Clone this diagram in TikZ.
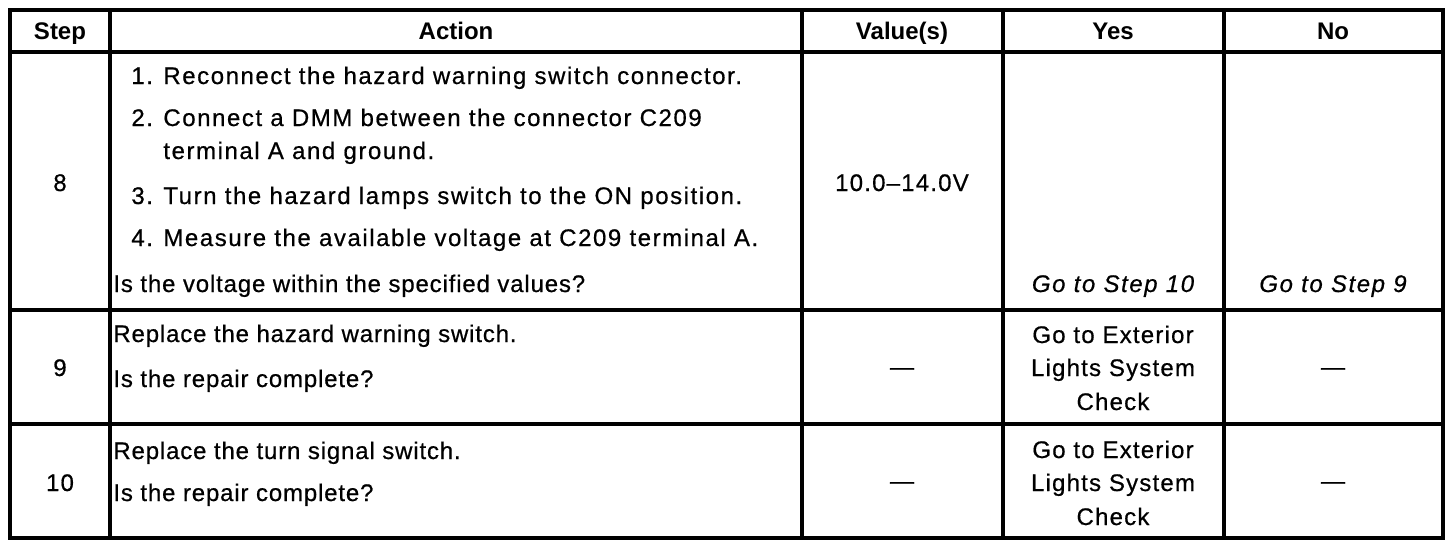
\documentclass[tikz,border=0pt]{standalone}
\usepackage{fontspec}
\setmainfont{Liberation Sans}[LetterSpace=6.5,FakeBold=0.6]
\newfontfamily\lsA{Liberation Sans}[LetterSpace=3.5,FakeBold=0.6]
\newfontfamily\lsB{Liberation Sans}[LetterSpace=5,FakeBold=0.6]
\newfontfamily\hdfont{Liberation Sans}
\begin{document}
\begin{tikzpicture}[x=0.5pt,y=-0.5pt,
  txt/.style={inner sep=0pt,font=\fontsize{12pt}{14pt}\selectfont},
  hd/.style={txt,anchor=base,font=\fontsize{12pt}{14pt}\hdfont\bfseries},
  lt/.style={txt,anchor=base west},
  lta/.style={txt,anchor=base west,font=\fontsize{12pt}{14pt}\lsA},
  ct/.style={txt,anchor=base,font=\fontsize{12pt}{14pt}\lsB},
  it/.style={txt,anchor=base,font=\fontsize{12pt}{14pt}\selectfont\itshape},
  rule/.style={line width=1.6pt,line cap=rect}]
\useasboundingbox (0,0) rectangle (1456,548);
% horizontal rules
\draw[rule] (10,10) -- (1443,10);
\draw[rule] (10,52) -- (1443,52);
\draw[rule] (10,310) -- (1443,310);
\draw[rule] (10,424) -- (1443,424);
\draw[rule] (10,538) -- (1443,538);
% vertical rules
\foreach \x in {10,110,802,1003,1224,1443}
  \draw[rule] (\x,10) -- (\x,538);
% header
\node[hd] (hstep) at (60,39) {Step};
\node[hd] (hact) at (456,39) {Action};
\node[hd] (hval) at (902,39) {Value(s)};
\node[hd] (hyes) at (1113,39) {Yes};
\node[hd] (hno) at (1333,39) {No};
% step 8
\node[ct] (s8) at (60,191) {8};
\node[lt] (n1) at (131,84) {1.};
\node[lt] (a1) at (163,84) {Reconnect the hazard warning switch connector.};
\node[lt] (n2) at (131,126) {2.};
\node[lt] (a2) at (163,126) {Connect a DMM between the connector C209};
\node[lt] (a2b) at (163,159) {terminal A and ground.};
\node[lt] (n3) at (131,204) {3.};
\node[lt] (a3) at (163,204) {Turn the hazard lamps switch to the ON position.};
\node[lt] (n4) at (131,246) {4.};
\node[lt] (a4) at (163,246) {Measure the available voltage at C209 terminal A.};
\node[lta] (q8) at (113,292) {Is the voltage within the specified values?};
\node[ct] (v8) at (902,191) {10.0–14.0V};
\node[it] (y8) at (1113,292) {Go to Step 10};
\node[it] (no8) at (1333,292) {Go to Step 9};
% step 9
\node[ct] (s9) at (60,376) {9};
\node[lta] (a9) at (113,342) {Replace the hazard warning switch.};
\node[lta] (q9) at (113,387) {Is the repair complete?};
\node[ct] (v9) at (902,375) {—};
\node[ct] (y9a) at (1113,343) {Go to Exterior};
\node[ct] (y9b) at (1113,376) {Lights System};
\node[ct] (y9c) at (1113,410) {Check};
\node[ct] (no9) at (1333,375) {—};
% step 10
\node[ct] (s10) at (60,491) {10};
\node[lta] (a10) at (113,459) {Replace the turn signal switch.};
\node[lta] (q10) at (113,501) {Is the repair complete?};
\node[ct] (v10) at (902,489) {—};
\node[ct] (y10a) at (1113,458) {Go to Exterior};
\node[ct] (y10b) at (1113,491) {Lights System};
\node[ct] (y10c) at (1113,525) {Check};
\node[ct] (no10) at (1333,489) {—};
\end{tikzpicture}
\end{document}
